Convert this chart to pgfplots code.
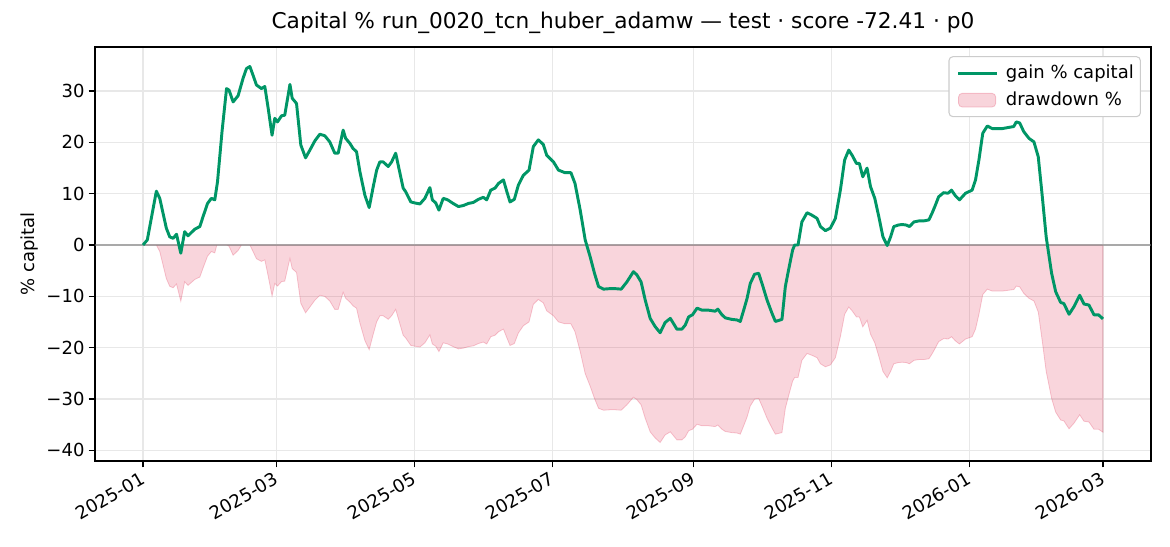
\documentclass[border=0pt]{standalone}
\usepackage{pgfplots}
\pgfplotsset{compat=1.18}
\usepackage{pgfplotstable}
\usepackage{fontspec}
\setmainfont{DejaVu Sans}
\definecolor{gainc}{RGB}{0,150,102}
\definecolor{ddc}{RGB}{220,20,60}
\definecolor{gridc}{RGB}{232,232,232}
\definecolor{legc}{RGB}{204,204,204}
\pgfplotsset{
  ddlegend/.style={legend image code/.code={\path (-3pt,0pt) (32.5pt,0pt);\draw[#1] (0pt,-5.2pt) rectangle (28pt,5.2pt);}},
  linelegend/.style={legend image code/.code={\path (-3pt,0pt) (32.5pt,0pt);\draw[#1] (0pt,0pt) -- (29pt,0pt);}},
}

\pgfplotstableread{
day g
0 0
1.9 1.0
5.9 10.5
7.4 9.1
10.3 3.3
11.8 1.6
13.3 1.3
14.8 2.1
16.7 -1.6
18.4 2.6
19.9 1.8
22.9 3.1
25.1 3.6
26.5 5.5
28.5 8.1
30.2 9.1
31.7 8.8
32.9 12.3
34.9 22.1
36.9 30.5
38.0 30.2
39.8 27.9
42.0 29.1
44.2 32.5
45.7 34.4
47.2 34.8
48.6 33.1
50.1 31.2
52.3 30.5
53.8 30.9
55.3 26.6
57.0 21.4
58.2 24.7
59.4 24.0
61.2 25.2
62.6 25.3
64.9 31.3
65.9 28.6
67.8 27.6
69.7 19.5
71.8 17.0
73.7 18.5
75.9 20.3
78.1 21.6
80.3 21.3
82.5 20.1
84.7 17.9
86.2 17.9
88.4 22.4
89.5 20.8
91.4 19.8
92.8 18.8
94.3 18.2
95.8 14.3
98.0 9.7
99.9 7.3
101.7 11.4
103.2 14.6
104.6 16.2
106.1 16.2
108.3 15.3
109.8 16.2
111.6 17.9
113.0 15.0
114.9 11.1
116.0 10.4
118.3 8.4
120.1 8.2
122.3 8.0
124.5 9.1
126.7 11.2
127.8 8.8
129.3 8.2
130.7 6.8
132.6 9.1
134.6 8.8
137.0 8.1
139.3 7.5
141.5 7.7
143.7 8.1
145.9 8.3
148.1 8.9
150.3 9.3
151.8 8.8
153.6 10.7
155.5 11.1
157.0 12.0
159.2 12.7
160.7 10.4
162.1 8.4
164.0 8.9
165.8 11.7
168.0 13.6
170.5 14.6
172.4 19.2
174.6 20.5
176.8 19.6
178.3 17.5
181.3 16.2
183.5 14.6
186.4 14.1
189.0 14.1
190.8 12.0
193.1 6.8
195.3 1.0
197.5 -2.3
199.4 -5.5
201.2 -8.1
203.4 -8.6
206.3 -8.5
208.5 -8.5
211.2 -8.6
213.7 -7.2
216.6 -5.2
218.1 -5.8
220.0 -7.2
221.8 -10.7
224.0 -14.3
226.2 -15.9
228.4 -17.1
230.6 -15.1
232.9 -14.3
234.3 -15.3
235.8 -16.4
238.0 -16.4
239.5 -15.6
241.0 -14.0
242.7 -13.6
244.7 -12.3
246.9 -12.7
249.8 -12.7
252.7 -12.9
253.9 -12.5
255.7 -13.6
257.2 -14.2
260.1 -14.5
262.3 -14.6
263.8 -14.9
265.3 -12.7
266.8 -10.4
268.2 -7.5
270.1 -5.7
271.9 -5.5
273.4 -7.5
275.6 -10.7
277.8 -13.3
279.3 -14.9
282.2 -14.5
283.7 -8.1
285.1 -4.9
286.9 -1.0
287.8 0
289.3 0
291.0 4.5
293.3 6.3
295.5 5.8
297.7 5.2
299.2 3.6
301.4 2.8
303.6 3.3
305.8 5.2
308.0 10.7
309.9 16.6
311.7 18.5
313.2 17.5
315.1 15.9
316.4 15.9
317.9 13.3
319.8 15.0
321.3 11.4
323.2 9.1
325.0 5.5
326.8 1.6
328.7 -0.1
330.2 1.6
331.6 3.6
333.6 3.9
335.3 4.0
337.1 3.9
338.5 3.6
340.5 4.5
342.7 4.7
344.8 4.7
347.1 4.9
348.5 6.2
350.0 7.8
351.4 9.4
353.6 10.2
355.6 10.1
357.1 10.7
358.8 9.6
360.6 8.8
363.3 10.1
366.2 10.7
367.7 12.7
369.2 16.6
370.9 21.8
372.9 23.2
375.1 22.7
379.5 22.7
384.6 23.1
385.7 24.0
387.2 23.8
389.0 22.1
391.3 20.8
393.5 20.1
395.4 17.2
397.2 9.4
398.9 1.6
401.3 -5.5
403.1 -9.1
405.3 -11.2
406.7 -11.4
409.0 -13.5
411.2 -12.0
413.7 -9.8
415.6 -11.5
417.8 -11.7
420.0 -13.6
422.0 -13.6
424.0 -14.4
}\gaintable

\pgfplotstableread{
day dd
0 0
5.9 0
7.4 -1.27
10.3 -6.52
11.8 -8.05
13.3 -8.33
14.8 -7.60
16.7 -10.95
18.4 -7.15
19.9 -7.87
22.9 -6.70
25.1 -6.24
26.5 -4.52
28.5 -2.17
30.2 -1.27
31.7 -1.54
32.6 0
36.9 0
38.0 -0.23
39.8 -1.99
42.0 -1.07
43.5 0
47.2 0
48.6 -1.26
50.1 -2.67
52.3 -3.19
53.8 -2.89
55.3 -6.08
57.0 -9.94
58.2 -7.49
59.4 -8.01
61.2 -7.12
62.6 -7.05
64.9 -2.60
65.9 -4.60
67.8 -5.34
69.7 -11.35
71.8 -13.21
73.7 -12.09
75.9 -10.76
78.1 -9.79
80.3 -10.02
82.5 -10.91
84.7 -12.54
86.2 -12.54
88.4 -9.20
89.5 -10.39
91.4 -11.13
92.8 -11.87
94.3 -12.31
95.8 -15.21
98.0 -18.62
99.9 -20.40
101.7 -17.36
103.2 -14.99
104.6 -13.80
106.1 -13.80
108.3 -14.47
109.8 -13.80
111.6 -12.54
113.0 -14.69
114.9 -17.58
116.0 -18.10
118.3 -19.58
120.1 -19.73
122.3 -19.88
124.5 -19.07
126.7 -17.51
127.8 -19.29
129.3 -19.73
130.7 -20.77
132.6 -19.07
134.6 -19.29
137.0 -19.81
139.3 -20.25
141.5 -20.10
143.7 -19.81
145.9 -19.66
148.1 -19.21
150.3 -18.92
151.8 -19.29
153.6 -17.88
155.5 -17.58
157.0 -16.91
159.2 -16.39
160.7 -18.10
162.1 -19.58
164.0 -19.21
165.8 -17.14
168.0 -15.73
170.5 -14.99
172.4 -11.57
174.6 -10.61
176.8 -11.28
178.3 -12.83
181.3 -13.80
183.5 -14.99
186.4 -15.36
189.0 -15.36
190.8 -16.91
193.1 -20.77
195.3 -25.07
197.5 -27.52
199.4 -29.90
201.2 -31.83
203.4 -32.20
206.3 -32.12
208.5 -32.12
211.2 -32.20
213.7 -31.16
216.6 -29.67
218.1 -30.12
220.0 -31.16
221.8 -33.75
224.0 -36.42
226.2 -37.61
228.4 -38.50
230.6 -37.02
232.9 -36.42
234.3 -37.17
235.8 -37.98
238.0 -37.98
239.5 -37.39
241.0 -36.20
242.7 -35.91
244.7 -34.94
246.9 -35.24
249.8 -35.24
252.7 -35.39
253.9 -35.09
255.7 -35.91
257.2 -36.35
260.1 -36.57
262.3 -36.65
263.8 -36.87
265.3 -35.24
266.8 -33.53
268.2 -31.38
270.1 -30.04
271.9 -29.90
273.4 -31.38
275.6 -33.75
277.8 -35.68
279.3 -36.87
282.2 -36.57
283.7 -31.83
285.1 -29.45
286.9 -26.56
287.8 -25.82
289.3 -25.82
291.0 -22.48
293.3 -21.14
295.5 -21.51
297.7 -21.96
299.2 -23.15
301.4 -23.74
303.6 -23.37
305.8 -21.96
308.0 -17.88
309.9 -13.50
311.7 -12.09
313.2 -12.83
315.1 -14.02
316.4 -14.02
317.9 -15.95
319.8 -14.69
321.3 -17.36
323.2 -19.07
325.0 -21.74
326.8 -24.63
328.7 -25.89
330.2 -24.63
331.6 -23.15
333.6 -22.92
335.3 -22.85
337.1 -22.92
338.5 -23.15
340.5 -22.48
342.7 -22.33
344.8 -22.33
347.1 -22.18
348.5 -21.22
350.0 -20.03
351.4 -18.84
353.6 -18.25
355.6 -18.32
357.1 -17.88
358.8 -18.69
360.6 -19.29
363.3 -18.32
366.2 -17.88
367.7 -16.39
369.2 -13.50
370.9 -9.64
372.9 -8.61
375.1 -8.98
379.5 -8.98
384.6 -8.68
385.7 -8.01
387.2 -8.16
389.0 -9.42
391.3 -10.39
393.5 -10.91
395.4 -13.06
397.2 -18.84
398.9 -24.63
401.3 -29.90
403.1 -32.57
405.3 -34.12
406.7 -34.27
409.0 -35.83
411.2 -34.72
413.7 -33.09
415.6 -34.35
417.8 -34.50
420.0 -35.91
422.0 -35.91
424.0 -36.50
}\ddtable

\begin{document}
\begin{tikzpicture}
\useasboundingbox (0,0) rectangle (877.5pt,409.5pt);
\begin{axis}[
  at={(71.25pt,63.75pt)}, anchor=south west,
  scale only axis, width=792pt, height=310.5pt,
  xmin=-21.2, xmax=445.2, ymin=-42.1, ymax=38.6,
  xtick={0,59,120,181,243,304,365,424},
  xticklabels={2025-01,2025-03,2025-05,2025-07,2025-09,2025-11,2026-01,2026-03},
  ytick={-40,-30,-20,-10,0,10,20,30},
  yticklabels={−40,−30,−20,−10,0,10,20,30},
  tick align=outside, tick pos=left, major tick length=4.7pt,
  tick style={black, line width=1.0pt},
  axis line style={line width=1.0pt},
  grid=major, major grid style={gridc, line width=1pt},
  ticklabel style={font=\fontsize{13.5}{16}\selectfont},
  xticklabel style={xshift=-2pt, rotate=30, anchor=north east, inner sep=2pt},
  yticklabel style={inner sep=3pt},
  ylabel={\% capital},
  ylabel style={font=\fontsize{13.5}{16}\selectfont},
  title={Capital \% run\_0020\_tcn\_huber\_adamw — test · score -72.41 · p0},
  title style={font=\fontsize{16.25}{19}\selectfont, at={(0.5,1)}, anchor=base, yshift=8pt},
  legend style={at={(0.9905,0.978)}, anchor=north east, draw=legc, line width=0.8pt,
    rounded corners=3pt, fill=white, font=\fontsize{13.5}{16}\selectfont,
    inner xsep=3pt, inner ysep=4.5pt, row sep=4.5pt},
  legend cell align=left,
  reverse legend,
]
\addplot[fill=ddc, fill opacity=0.18, draw=ddc, draw opacity=0.22, line width=0.6pt, ddlegend]
  table[x=day, y=dd] {\ddtable} \closedcycle;
\addlegendentry{drawdown \%}
\addplot[forget plot, gray, opacity=0.6, line width=1pt] coordinates {(-21.2,0) (445.2,0)};
\addplot[gainc, line width=2.2pt, line join=round, linelegend]
  table[x=day, y=g] {\gaintable};
\addlegendentry{gain \% capital}
\end{axis}
\end{tikzpicture}
\end{document}
